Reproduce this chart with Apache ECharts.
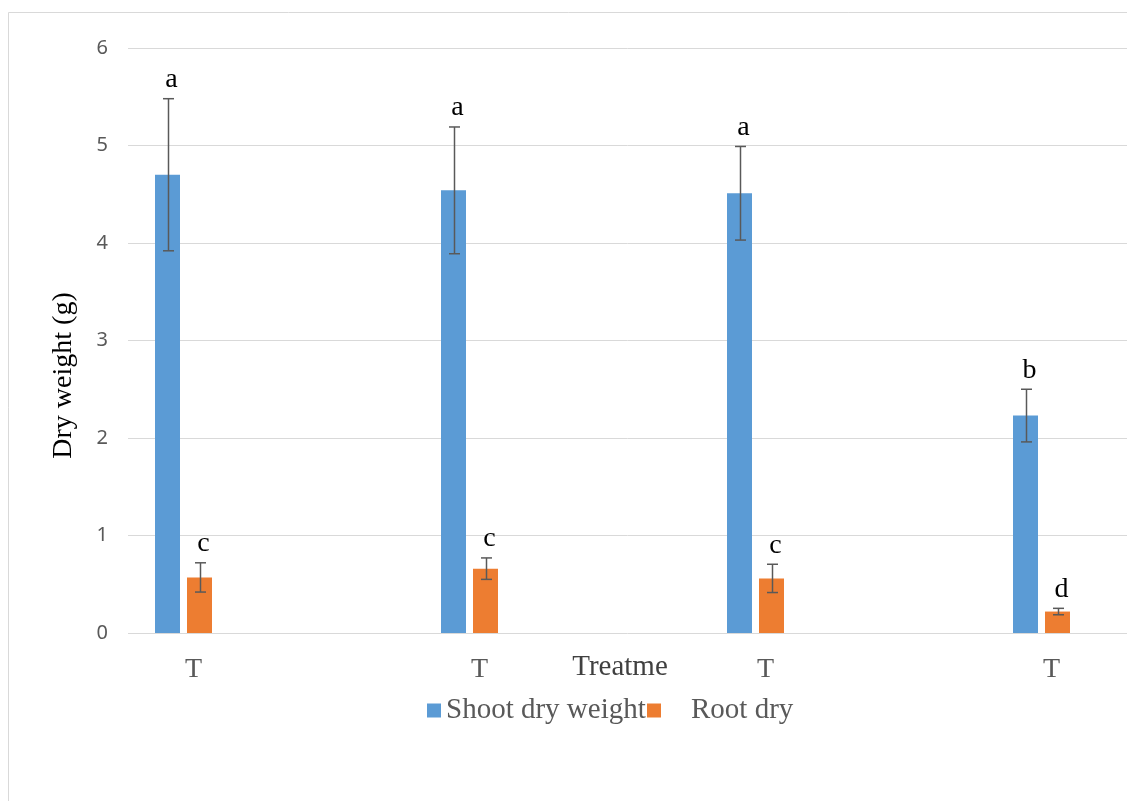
<!DOCTYPE html>
<html>
<head>
<meta charset="utf-8">
<title>Dry weight</title>
<script src="https://cdn.jsdelivr.net/npm/echarts@6/dist/echarts.min.js"></script>
<style>
  html, body { margin: 0; padding: 0; background: #fff; }
  #chart { width: 1127px; height: 801px; }
</style>
</head>
<body>
<div id="chart"></div>
<script>
// values
const categories = ["T", "T", "T", "T"];
const shootDry = [4.70, 4.54, 4.51, 2.23];
const shootErr = [0.78, 0.65, 0.48, 0.27];
const rootDry = [0.57, 0.66, 0.56, 0.22];
const rootErr = [0.15, 0.11, 0.145, 0.033];
const shootLetters = ["a", "a", "a", "b"];
const rootLetters = ["c", "c", "c", "d"];

const BLUE = "#5B9BD5";
const ORANGE = "#ED7D31";
const GRID_LINE = "#d9d9d9";
const SERIF = "'Liberation Serif', 'DejaVu Serif', serif";

const BAR_W = 25;
const BAR_GAP = 7;

const chart = echarts.init(document.getElementById("chart"));

// error bar + significance letter, shifted to sit on its bar in the group
function errorBars(values, errs, letters, side) {
  const shift = side * (BAR_W + BAR_GAP) / 2;
  return {
    type: "custom",
    xAxisIndex: 0,
    yAxisIndex: 0,
    z: 5,
    data: values.map((v, i) => [i, v, errs[i]]),
    renderItem: (params, api) => {
      const i = api.value(0);
      const mean = api.value(1);
      const err = api.value(2);
      const top = api.coord([i, mean + err]);
      const bot = api.coord([i, mean - err]);
      const x = Math.round(top[0] + shift) + 0.5;
      const cap = 5.5;
      const style = { stroke: "#595959", lineWidth: 1.5 };
      return {
        type: "group",
        children: [
          { type: "line", shape: { x1: x, y1: top[1], x2: x, y2: bot[1] }, style },
          { type: "line", shape: { x1: x - cap, y1: top[1], x2: x + cap, y2: top[1] }, style },
          { type: "line", shape: { x1: x - cap, y1: bot[1], x2: x + cap, y2: bot[1] }, style },
          {
            type: "text",
            x: x + 3,
            y: top[1] - 5,
            style: {
              text: letters[params.dataIndex],
              fill: "#000",
              font: "28px " + SERIF,
              align: "center",
              verticalAlign: "bottom"
            }
          }
        ]
      };
    }
  };
}

const option = {
  backgroundColor: "#fff",
  animation: false,
  graphic: [
    {
      type: "rect",
      silent: true,
      z: -10,
      shape: { x: 8.5, y: 12.5, width: 1300, height: 900 },
      style: { fill: "none", stroke: GRID_LINE, lineWidth: 1 }
    }
  ],
  grid: [
    // bars: the plot runs past the right edge of the picture
    { left: 40.5, width: 1144, top: 48, bottom: 168, outerBoundsMode: "none" },
    // visible value axis and gridlines
    { left: 128, right: 0, top: 48, bottom: 168, outerBoundsMode: "none" }
  ],
  legend: [
    {
      left: 427,
      top: 696,
      padding: 0,
      data: ["Shoot dry weight"],
      icon: "rect",
      itemWidth: 14,
      itemHeight: 14,
      textStyle: { fontFamily: SERIF, fontSize: 29, color: "#595959" }
    },
    {
      left: 647,
      top: 696,
      padding: 0,
      data: ["Root dry"],
      icon: "rect",
      itemWidth: 14,
      itemHeight: 14,
      textStyle: { fontFamily: SERIF, fontSize: 29, color: "#595959", padding: [0, 0, 0, 25] }
    }
  ],
  xAxis: [
    {
      type: "category",
      gridIndex: 0,
      data: categories,
      axisLine: { show: false },
      axisTick: { show: false },
      axisLabel: {
        fontFamily: SERIF,
        fontSize: 28,
        color: "#595959",
        margin: 23,
        padding: [0, 0, 0, 20]
      },
      name: "Treatme",
      nameLocation: "middle",
      nameGap: 20,
      nameMoveOverlap: false,
      nameTextStyle: {
        fontFamily: SERIF,
        fontSize: 29,
        color: "#404040",
        padding: [0, 0, 0, 15]
      }
    },
    { type: "value", gridIndex: 1, show: false, min: 0, max: 1 }
  ],
  yAxis: [
    { type: "value", gridIndex: 0, min: 0, max: 6, interval: 1, show: false },
    {
      type: "value",
      gridIndex: 1,
      min: 0,
      max: 6,
      interval: 1,
      axisLine: { show: false },
      axisTick: { show: false },
      axisLabel: { fontFamily: "'Noto Sans', sans-serif", fontSize: 20, color: "#595959", margin: 20 },
      splitLine: { lineStyle: { color: GRID_LINE, width: 1 } },
      name: "Dry weight (g)",
      nameLocation: "middle",
      nameRotate: 90,
      nameGap: 50,
      nameTextStyle: {
        fontFamily: SERIF,
        fontSize: 28,
        color: "#000",
        padding: [0, 70, 0, 0]
      }
    }
  ],
  series: [
    {
      name: "Shoot dry weight",
      type: "bar",
      xAxisIndex: 0,
      yAxisIndex: 0,
      data: shootDry,
      barWidth: BAR_W,
      barGap: (BAR_GAP / BAR_W * 100) + "%",
      itemStyle: { color: BLUE }
    },
    {
      name: "Root dry",
      type: "bar",
      xAxisIndex: 0,
      yAxisIndex: 0,
      data: rootDry,
      barWidth: BAR_W,
      barGap: (BAR_GAP / BAR_W * 100) + "%",
      itemStyle: { color: ORANGE }
    },
    errorBars(shootDry, shootErr, shootLetters, -1),
    errorBars(rootDry, rootErr, rootLetters, 1)
  ]
};

chart.setOption(option);
window.addEventListener("resize", () => chart.resize());
</script>
</body>
</html>
